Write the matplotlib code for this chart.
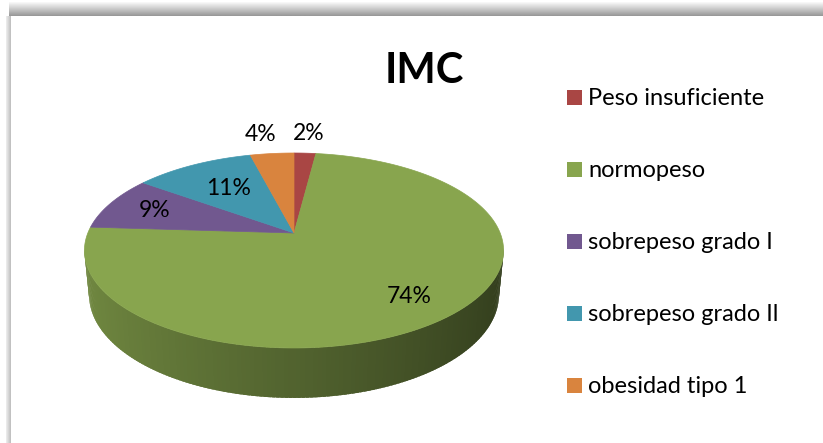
import numpy as np
import matplotlib
matplotlib.use("Agg")
import matplotlib.pyplot as plt
from matplotlib.patches import Polygon, Rectangle

# ---------------- data ----------------
title = "IMC"
categories = ["Peso insuficiente", "normopeso", "sobrepeso grado I",
              "sobrepeso grado Il", "obesidad tipo 1"]
values = [2, 74, 9, 11, 4]
labels = ["2%", "74%", "9%", "11%", "4%"]
colors = ["#a94644", "#88a54e", "#71588f", "#4297ae", "#d9843e"]

# ---------------- layout / style ----------------
W, H = 823, 443
FONT = "Lato"
cx, cy = 294.0, 233.0          # apex of the pie in pixels
elev = np.deg2rad(26.84)
s, c = np.sin(elev), np.cos(elev)
D = 4.972                      # camera distance
Sx, Sy = 1025.0, 1039.0        # pixel scale
h = 0.239                      # pie thickness
label_r = [1.30, 0.78, 0.75, 0.62, 1.30]
label_dx = [1, 0, 0, 0, -6]


def proj(X, Y, Z):
    depth = D - Y * s - Z * c
    u = X / depth
    v = (Y * c - Z * s) / depth
    return cx + Sx * u, cy - Sy * v


def depth_of(X, Y, Z):
    return D - Y * s - Z * c


fig = plt.figure(figsize=(W / 100, H / 100), dpi=100)
ax = fig.add_axes([0, 0, 1, 1])
ax.set_xlim(0, W)
ax.set_ylim(H, 0)
ax.axis("off")

# ---------------- frame shadow ----------------
top_grad = np.linspace(0.97, 0.60, 14)[:, None] * np.ones((1, 10))
ax.imshow(np.dstack([top_grad] * 3), extent=(9, W, 16, 2), aspect="auto",
          interpolation="bilinear", zorder=0)
left_grad = np.linspace(0.92, 0.76, 5)[None, :] * np.ones((10, 1))
ax.imshow(np.dstack([left_grad] * 3), extent=(6, 11, H, 16), aspect="auto",
          interpolation="bilinear", zorder=0)
ax.add_patch(Rectangle((11, 16), W, H, facecolor="white", edgecolor="none", zorder=0.5))

# ---------------- pie ----------------
fracs = np.array(values, dtype=float) / np.sum(values)
bounds = np.concatenate([[0], np.cumsum(fracs)]) * 2 * np.pi
cam = np.array([0.0, D * s, D * c])
ov = np.deg2rad(0.4)

walls = []
for i in range(len(values)):
    a0, a1 = bounds[i], bounds[i + 1]
    n = max(2, int(np.ceil(np.rad2deg(a1 - a0))))
    ang = np.linspace(a0, a1, n + 1)
    base = np.array(matplotlib.colors.to_rgb(colors[i]))
    for j in range(n):
        p, q = ang[j], ang[j + 1]
        m = 0.5 * (p + q)
        Xm, Zm = np.sin(m), -np.cos(m)
        normal = np.array([Xm, 0.0, Zm])
        tocam = cam - np.array([Xm, -h / 2, Zm])
        if normal @ tocam <= -0.3:
            continue
        p2, q2 = max(a0, p - ov), min(a1, q + ov)
        pts = [proj(np.sin(p2), 0, -np.cos(p2)), proj(np.sin(q2), 0, -np.cos(q2)),
               proj(np.sin(q2), -h, -np.cos(q2)), proj(np.sin(p2), -h, -np.cos(p2))]
        f = 0.60 - 0.23 * Xm
        col = np.clip(base * f, 0, 1)
        walls.append((depth_of(Xm, -h / 2, Zm), pts, col))

walls.sort(key=lambda t: -t[0])
for _, pts, col in walls:
    ax.add_patch(Polygon(pts, closed=True, facecolor=col, edgecolor="none",
                         linewidth=0, antialiased=True, zorder=2))

for i in range(len(values)):
    a0, a1 = bounds[i], bounds[i + 1]
    n = max(4, int(np.ceil(np.rad2deg(a1 - a0) * 2)))
    ang = np.linspace(a0, a1, n + 1)
    pts = [proj(0, 0, 0)] + [proj(np.sin(a), 0, -np.cos(a)) for a in ang]
    ax.add_patch(Polygon(pts, closed=True, facecolor=colors[i],
                         edgecolor=colors[i], linewidth=0.5, zorder=3))

# data labels
for i in range(len(values)):
    m = 0.5 * (bounds[i] + bounds[i + 1])
    r = label_r[i]
    x, y = proj(r * np.sin(m), 0, -r * np.cos(m))
    ax.text(x + label_dx[i], y, labels[i], ha="center", va="center", fontsize=16.5,
            family=FONT, color="black", zorder=5)

# title
ax.text(424, 83, title, ha="center", va="baseline", fontsize=30,
        fontweight="bold", family=FONT, color="black", zorder=5)

# legend
for k, (name, col) in enumerate(zip(categories, colors)):
    yc = 97.5 + 72 * k
    ax.add_patch(Rectangle((567, yc - 7.5), 15, 15, facecolor=col,
                           edgecolor="none", zorder=4))
    ax.text(588, yc + 7.5, name, ha="left", va="baseline", fontsize=17,
            family=FONT, color="black", zorder=5)

fig.savefig("out.png", dpi=100)
